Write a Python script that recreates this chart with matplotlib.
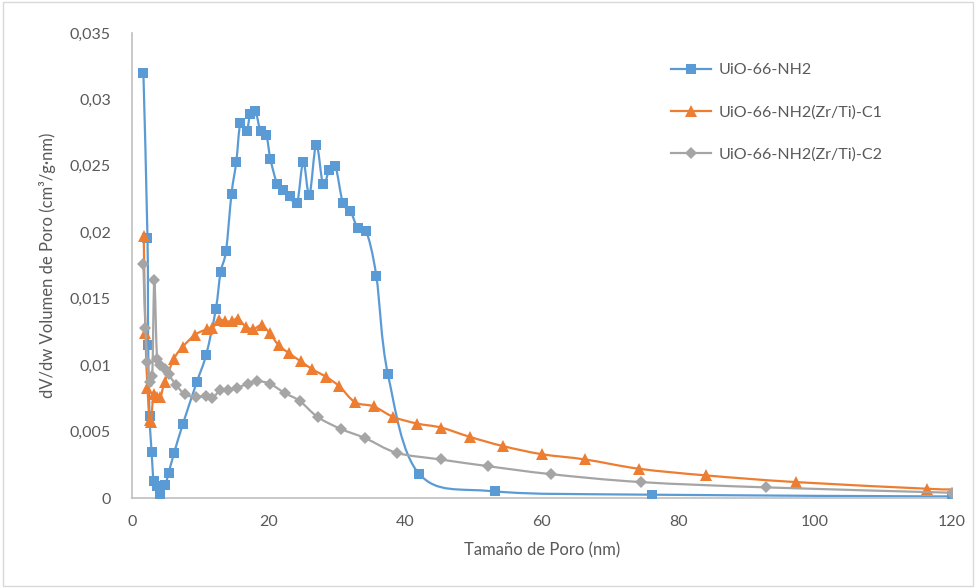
import numpy as np
import matplotlib
matplotlib.use("Agg")
import matplotlib.pyplot as plt
from matplotlib.path import Path
from matplotlib.patches import PathPatch, Rectangle
from matplotlib.lines import Line2D
from matplotlib.ticker import FuncFormatter, MultipleLocator

plt.rcParams['font.family'] = ['Lato', 'DejaVu Sans']

# UiO-66-NH2
x_nh2 = [1.7, 2.3, 2.4, 2.6, 2.9, 3.2, 3.7, 4.2, 4.9, 5.4, 6.2, 7.5, 9.5, 10.9, 12.3,
         13.0, 13.8, 14.6, 15.3, 15.9, 16.8, 17.35, 18.1, 18.85, 19.7, 20.3, 21.3, 22.2,
         23.1, 24.2, 25.1, 26.0, 27.0, 28.0, 28.9, 29.8, 30.9, 32.0, 33.1, 34.3, 35.8,
         37.5, 42.1, 53.2, 76.2, 120.0]
y_nh2 = [0.0320, 0.0196, 0.0115, 0.0062, 0.0035, 0.0013, 0.0009, 0.0003, 0.0010, 0.0019,
         0.0034, 0.0056, 0.0087, 0.0108, 0.0142, 0.0170, 0.0186, 0.0229, 0.0253, 0.0282,
         0.0276, 0.0289, 0.0291, 0.0276, 0.0273, 0.0255, 0.0236, 0.0232, 0.0227, 0.0222,
         0.0253, 0.0228, 0.0266, 0.0236, 0.0247, 0.0250, 0.0222, 0.0216, 0.0203, 0.0201,
         0.0167, 0.0093, 0.0018, 0.0005, 0.00025, 0.00012]

# UiO-66-NH2(Zr/Ti)-C1
x_c1 = [1.75, 2.0, 2.3, 2.6, 2.8, 3.2, 3.7, 4.2, 4.8, 6.2, 7.5, 9.3, 11.0, 11.8, 12.8,
        13.7, 14.7, 15.5, 16.7, 17.8, 19.0, 20.2, 21.5, 23.0, 24.7, 26.4, 28.5, 30.4,
        32.7, 35.4, 38.3, 41.8, 45.3, 49.5, 54.4, 60.0, 66.4, 74.3, 84.1, 97.2, 116.4, 120.0]
y_c1 = [0.0197, 0.0124, 0.0083, 0.0059, 0.0057, 0.0078, 0.0076, 0.0076, 0.0087, 0.0105,
        0.0114, 0.0123, 0.0127, 0.0128, 0.0134, 0.0133, 0.0133, 0.0135, 0.0129, 0.0127,
        0.0130, 0.0124, 0.0115, 0.0109, 0.0103, 0.0097, 0.0091, 0.0084, 0.0072, 0.0069,
        0.0061, 0.0056, 0.0053, 0.0046, 0.0039, 0.0033, 0.0029, 0.0022, 0.0017, 0.0012,
        0.0007, 0.00065]

# UiO-66-NH2(Zr/Ti)-C2
x_c2 = [1.7, 2.0, 2.3, 2.6, 3.0, 3.3, 3.7, 4.2, 4.8, 5.4, 6.5, 7.8, 9.4, 10.9, 11.8,
        12.9, 14.1, 15.4, 17.0, 18.3, 20.2, 22.4, 24.6, 27.2, 30.6, 34.2, 38.8, 45.2,
        52.1, 61.3, 74.5, 92.9, 120.0]
y_c2 = [0.0176, 0.0128, 0.0102, 0.0087, 0.0092, 0.0164, 0.0105, 0.0100, 0.0097, 0.0093,
        0.0085, 0.0078, 0.0076, 0.0077, 0.0075, 0.0081, 0.0081, 0.0083, 0.0086, 0.0088,
        0.0086, 0.0079, 0.0073, 0.0061, 0.0052, 0.0045, 0.0034, 0.0029, 0.0024, 0.0018,
        0.0012, 0.0008, 0.0004]

labels = ['UiO-66-NH2', 'UiO-66-NH2(Zr/Ti)-C1', 'UiO-66-NH2(Zr/Ti)-C2']
colors = ['#5B9BD5', '#ED7D31', '#A5A5A5']
markers = ['s', '^', 'D']
msizes = [7.4, 8.2, 6.0]


def smooth_path(x, y):
    # excel style smoothed line (catmull-rom bezier through the points)
    pts = np.column_stack([x, y])
    verts = [pts[0]]
    codes = [Path.MOVETO]
    n = len(pts)
    for i in range(n - 1):
        p0 = pts[i - 1] if i > 0 else pts[i]
        p1 = pts[i]
        p2 = pts[i + 1]
        p3 = pts[i + 2] if i + 2 < n else pts[i + 1]
        verts += [p1 + (p2 - p0) / 6.0, p2 - (p3 - p1) / 6.0, p2]
        codes += [Path.CURVE4] * 3
    return Path(verts, codes)


fig = plt.figure(figsize=(9.76, 5.88), dpi=100)
ax = fig.add_axes([0.135, 0.153, 0.840, 0.791])

series = [(x_nh2, y_nh2, False), (x_c1, y_c1, True), (x_c2, y_c2, False)]
handles = []
for k, (xs, ys, skip_last) in enumerate(series):
    ax.add_patch(PathPatch(smooth_path(xs, ys), fill=False, edgecolor=colors[k],
                           lw=1.6, zorder=2 + k * 2))
    mx, my = (xs[:-1], ys[:-1]) if skip_last else (xs, ys)
    ax.plot(mx, my, ls='none', marker=markers[k], ms=msizes[k], color=colors[k],
            markeredgewidth=0, zorder=3 + k * 2)
    handles.append(Line2D([], [], color=colors[k], lw=1.6, marker=markers[k],
                          ms=msizes[k], markeredgewidth=0))

ax.set_xlim(0, 120)
ax.set_ylim(0, 0.035)
ax.xaxis.set_major_locator(MultipleLocator(20))
ax.yaxis.set_major_locator(MultipleLocator(0.005))
ax.yaxis.set_major_formatter(FuncFormatter(lambda v, p: f"{v:.3f}".rstrip('0').rstrip('.').replace('.', ',') if v != 0 else "0"))

for s in ['top', 'right']:
    ax.spines[s].set_visible(False)
for s in ['left', 'bottom']:
    ax.spines[s].set_color('#BFBFBF')
    ax.spines[s].set_linewidth(1.2)
ax.tick_params(length=0, labelsize=11.5, colors='#595959')
ax.tick_params(axis='y', pad=15)
ax.tick_params(axis='x', pad=12)

ax.set_xlabel('Tamaño de Poro (nm)', fontsize=12, color='#595959', labelpad=10)
ax.set_ylabel('dV/dw Volumen de Poro (cm³/g·nm)', fontsize=12, color='#595959', labelpad=10)

leg = fig.legend(handles, labels, loc='upper left', bbox_to_anchor=(0.673, 0.917),
                 frameon=False, fontsize=11.5, labelspacing=1.75, handlelength=2.5,
                 handletextpad=0.45)
for t in leg.get_texts():
    t.set_color('#595959')

# light frame around the whole chart
fig.patches.append(Rectangle((0.003, 0.003), 0.994, 0.994, transform=fig.transFigure,
                             fill=False, edgecolor='#D9D9D9', lw=1.0))

fig.savefig('out.png', dpi=100)
